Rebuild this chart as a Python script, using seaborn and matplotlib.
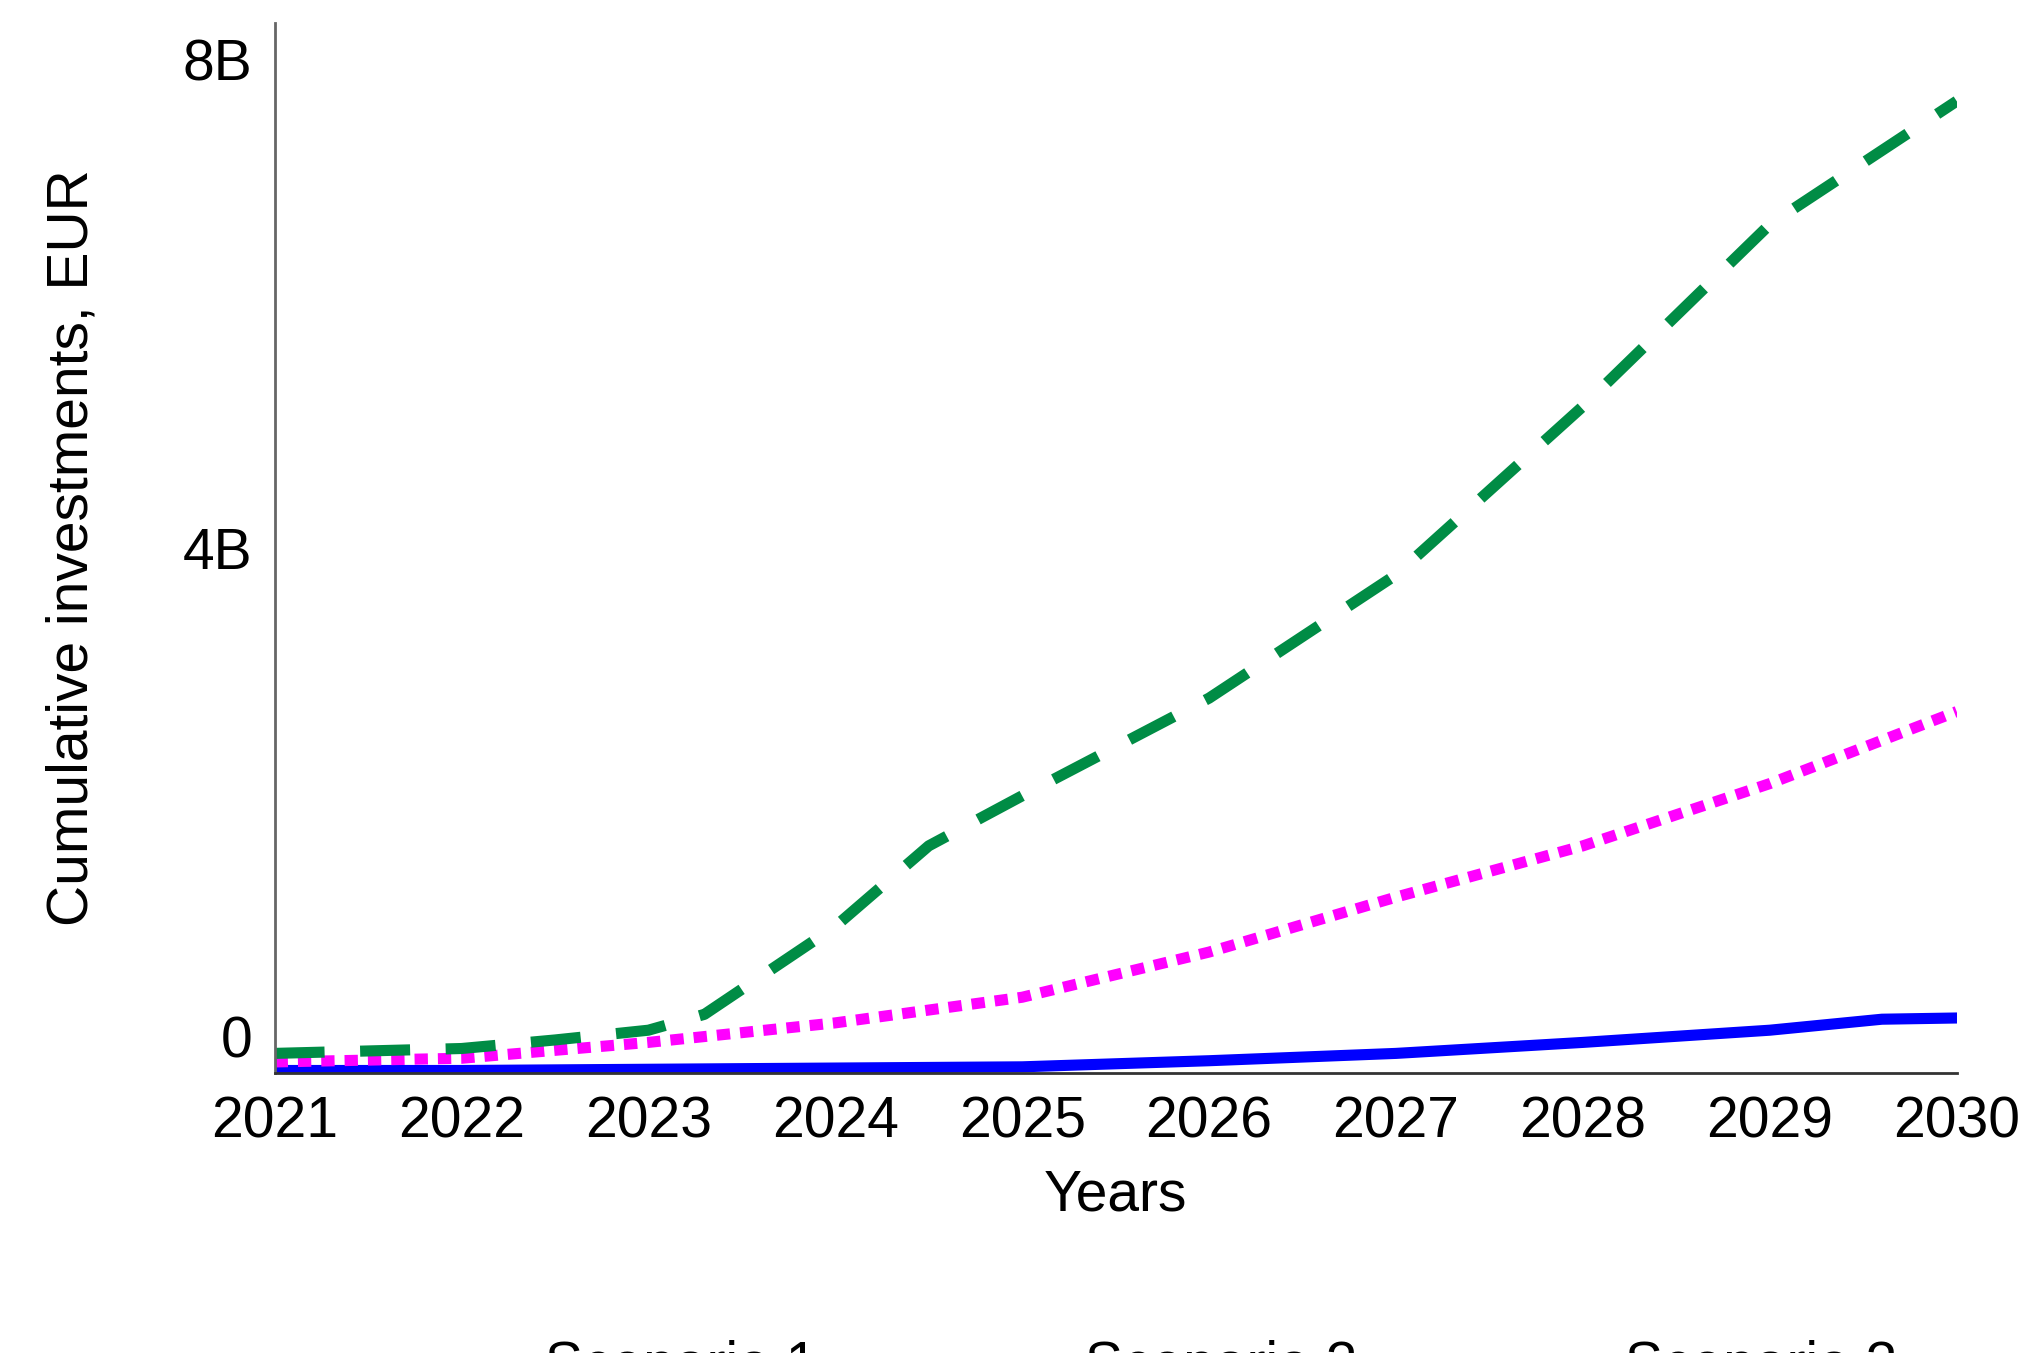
import matplotlib
matplotlib.use("Agg")
import matplotlib.pyplot as plt
import seaborn as sns

years_1 = [2021, 2022, 2023, 2024, 2025, 2026, 2027, 2028, 2029, 2029.6, 2030]
scen_1 = [-0.28, -0.28, -0.27, -0.26, -0.25, -0.20, -0.14, -0.05, 0.05, 0.14, 0.15]
years_2 = [2021, 2022, 2023, 2024, 2025, 2026, 2027, 2028, 2029, 2030]
scen_2 = [-0.21, -0.18, -0.05, 0.11, 0.32, 0.69, 1.14, 1.56, 2.07, 2.66]
years_3 = [2021, 2022, 2022.5, 2023, 2023.3, 2024, 2024.5, 2025, 2026, 2027, 2028, 2029, 2030]
scen_3 = [-0.14, -0.10, -0.03, 0.05, 0.18, 0.90, 1.56, 1.97, 2.77, 3.78, 5.16, 6.65, 7.66]

sns.set_style("white")
plt.rcParams['font.family'] = ['Liberation Sans', 'DejaVu Sans']
plt.rcParams['text.color'] = 'black'
plt.rcParams['axes.labelcolor'] = 'black'
plt.rcParams['xtick.color'] = 'black'
plt.rcParams['ytick.color'] = 'black'

fig = plt.figure(figsize=(20.34, 13.53), dpi=100)
ax = fig.add_axes([0.135, 0.207, 0.827, 0.776])

sns.lineplot(x=years_1, y=scen_1, ax=ax, color='#0000ff', lw=8, label='Scenario 1')
sns.lineplot(x=years_2, y=scen_2, ax=ax, color='#ff00ff', lw=8, label='Scenario 2')
sns.lineplot(x=years_3, y=scen_3, ax=ax, color='#008c45', lw=8, label='Scenario 3')
ax.lines[1].set_dashes([1.2, 0.9])
ax.lines[2].set_dashes([4.5, 3.2])

ax.set_xlim(2021, 2030)
ax.set_ylim(-0.3, 8.3)
ax.set_xticks(range(2021, 2031))
ax.set_yticks([0, 4, 8])
ax.set_yticklabels(['0', '4B', '8B'])
ax.tick_params(labelsize=41, length=0, pad=16)
ax.set_xlabel('Years', fontsize=41, labelpad=14)
ax.set_ylabel('Cumulative investments, EUR', fontsize=41, labelpad=60)
for s in ['top', 'right']:
    ax.spines[s].set_visible(False)
ax.spines['left'].set_color('#666666')
ax.spines['left'].set_linewidth(2)
ax.spines['bottom'].set_color('#333333')
ax.spines['bottom'].set_linewidth(2)
ax.grid(False)

ax.legend(loc='upper center', bbox_to_anchor=(0.5, -0.205), ncol=3, frameon=False,
          fontsize=41, handlelength=3.2, columnspacing=1.0, handletextpad=0.5)

fig.savefig('out.png', dpi=100)
